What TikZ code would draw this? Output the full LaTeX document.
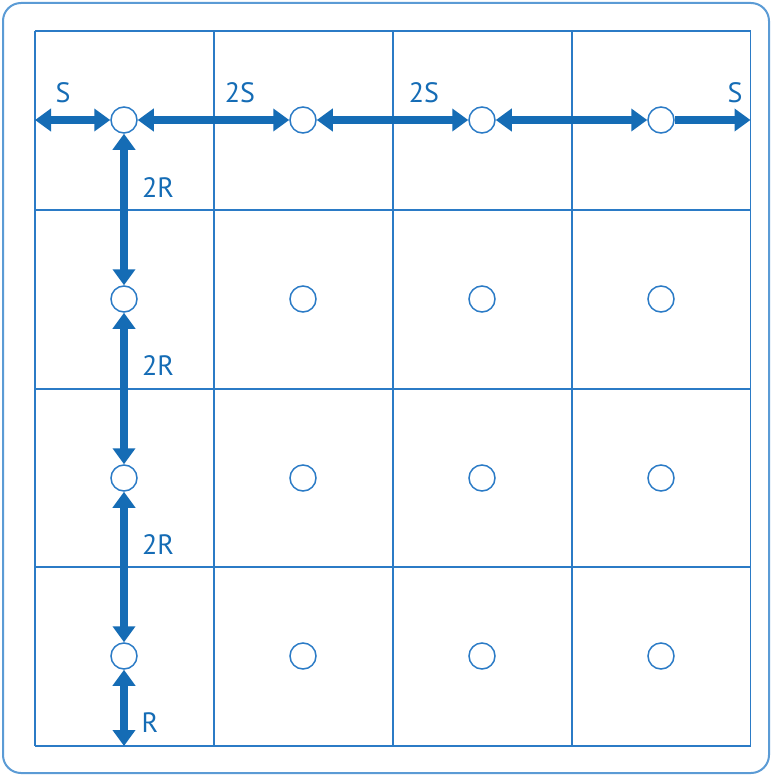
\documentclass[tikz,border=0pt]{standalone}
\usepackage{fontspec}
\setmainfont{PT Sans}
\usetikzlibrary{arrows.meta}
\definecolor{gridblue}{HTML}{2B7BC6}
\definecolor{arrowblue}{HTML}{156CB5}
\definecolor{borderblue}{HTML}{5B9BD5}
\begin{document}
\begin{tikzpicture}[x=1pt,y=-1pt,
  gridline/.style={draw=gridblue, line width=1.5pt},
  hole/.style={circle, draw=gridblue, fill=white, line width=1.5pt, minimum size=26pt, inner sep=0pt},
  dimtip/.tip={Triangle[length=16pt,width=22pt]},
  dim/.style={draw=arrowblue, line width=7.5pt, dimtip-dimtip},
  dimone/.style={draw=arrowblue, line width=7.5pt, -dimtip},
  lbl/.style={text=arrowblue, inner sep=0pt, font=\fontsize{28}{28}\selectfont}]
\useasboundingbox (0,0) rectangle (772,776);
\draw[draw=borderblue, line width=2pt, rounded corners=18pt] (3,3) rectangle (769,773);
% grid
\foreach \x in {35,214,393,572,750.5} \draw[gridline] (\x,31) -- (\x,746);
\foreach \y in {31,210,389,567,746} \draw[gridline] (35,\y) -- (750.5,\y);
% holes
\foreach \i/\x in {1/124,2/303,3/482,4/661}
  \foreach \j/\y in {1/120,2/299,3/478,4/656}
    \node[hole] (c\j\i) at (\x,\y) {};
% free ends
\coordinate (L) at (35,120);
\coordinate (Rt) at (750.5,120);
\coordinate (B) at (124,746);
% horizontal dimensions
\draw[dim] (L) -- (c11);
\draw[dim] (c11) -- (c12);
\draw[dim] (c12) -- (c13);
\draw[dim] (c13) -- (c14);
\draw[dimone] (c14) -- (Rt);
% vertical dimensions
\draw[dim] (c11) -- (c21);
\draw[dim] (c21) -- (c31);
\draw[dim] (c31) -- (c41);
\draw[dim] (c41) -- (B);
% labels
\node[lbl] (s1) at (63,93) {S};
\node[lbl] (s2) at (240,93) {2S};
\node[lbl] (s3) at (424,93) {2S};
\node[lbl] (s4) at (735,93) {S};
\node[lbl] (r1) at (158,188) {2R};
\node[lbl] (r2) at (158,366) {2R};
\node[lbl] (r3) at (158,545) {2R};
\node[lbl] (r4) at (150,723) {R};
\end{tikzpicture}
\end{document}
